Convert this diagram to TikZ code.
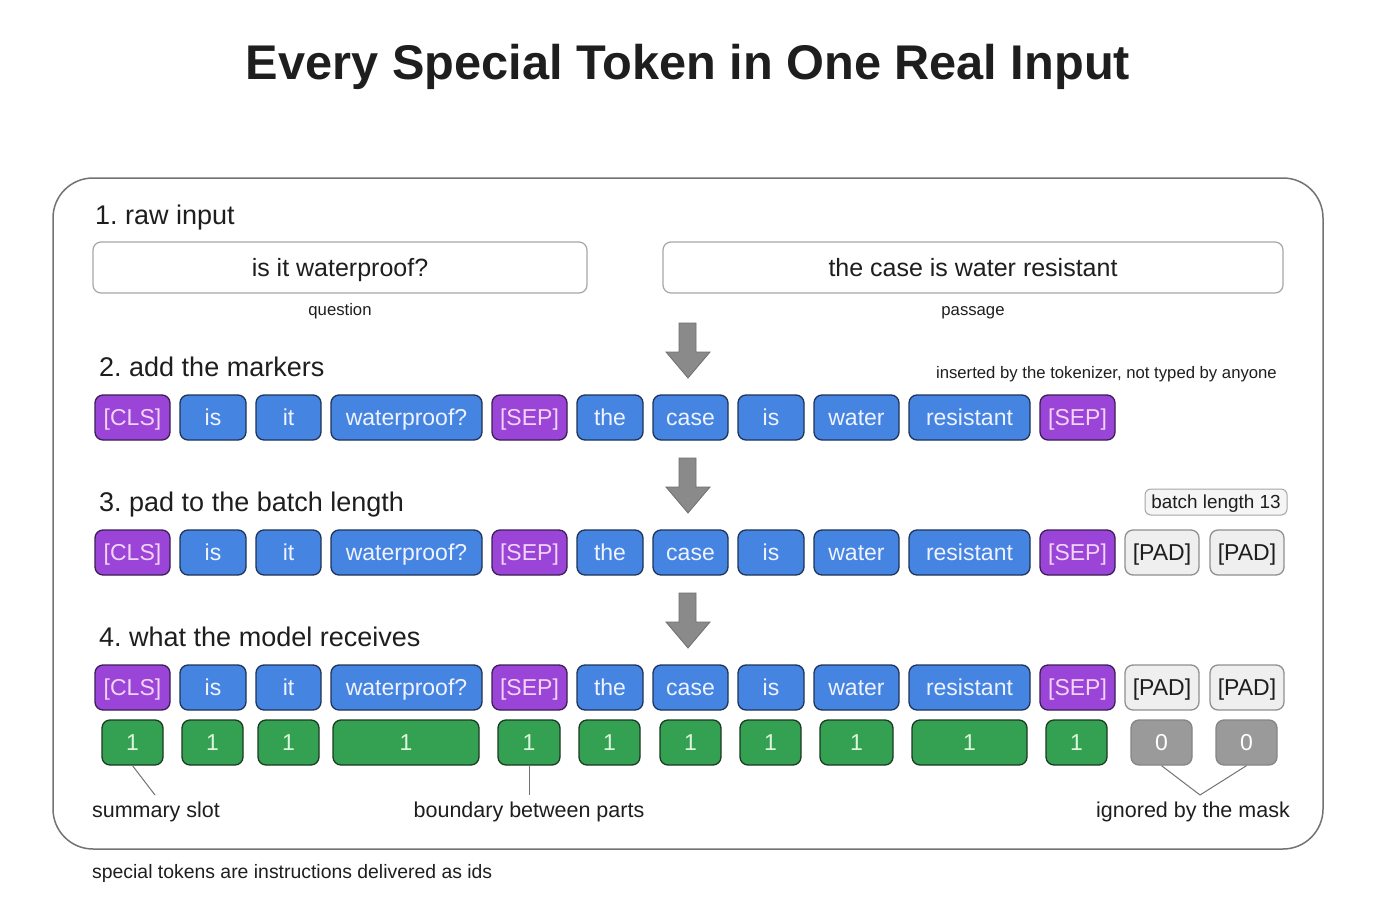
\documentclass[tikz,border=0pt]{standalone}
\usepackage{fontspec}
\setmainfont{Liberation Sans}
\frenchspacing
\usetikzlibrary{positioning}
\definecolor{purfill}{HTML}{9A45D8}
\definecolor{purdraw}{HTML}{3A1F55}
\definecolor{purtext}{HTML}{F4D4F6}
\definecolor{blufill}{HTML}{4684E2}
\definecolor{bludraw}{HTML}{1E3458}
\definecolor{blutext}{HTML}{EEF3FF}
\definecolor{grnfill}{HTML}{34A152}
\definecolor{grndraw}{HTML}{1B3A22}
\definecolor{grntext}{HTML}{DFF7DF}
\definecolor{padfill}{HTML}{EFEFEF}
\definecolor{paddraw}{HTML}{8F8F8F}
\definecolor{zerofill}{HTML}{9A9A9A}
\definecolor{zerodraw}{HTML}{858585}
\definecolor{arrfill}{HTML}{8A8A8A}
\definecolor{arrdraw}{HTML}{6E6E6E}
\definecolor{txt}{HTML}{1E1E1E}
\tikzset{
  tokbase/.style={rounded corners=8pt, line width=1.3pt, minimum height=45pt, inner sep=0pt, text height=16.5pt, text depth=0pt, font=\fontsize{23}{27}\selectfont},
  tokspecial/.style={tokbase, fill=purfill, draw=purdraw, text=purtext},
  tokword/.style={tokbase, fill=blufill, draw=bludraw, text=blutext},
  tokpad/.style={tokbase, fill=padfill, draw=paddraw, text=txt},
  maskone/.style={tokbase, fill=grnfill, draw=grndraw, text=grntext},
  maskzero/.style={tokbase, fill=zerofill, draw=zerodraw, text=white},
  heading/.style={anchor=base west, inner sep=0pt, text=txt, font=\fontsize{27}{32}\selectfont},
  smalltext/.style={anchor=base, inner sep=0pt, text=txt, font=\fontsize{16.7}{20}\selectfont},
  annot/.style={anchor=base, inner sep=0pt, text=txt, font=\fontsize{21.5}{26}\selectfont},
  inbox/.style={rounded corners=8pt, draw=black!35, line width=1.2pt, inner sep=0pt, minimum height=51pt, text height=18pt, text depth=0pt, text=txt, font=\fontsize{25}{30}\selectfont},
  bigarrow/.style={fill=arrfill, draw=arrdraw, line width=0.8pt, line join=miter},
  pointer/.style={draw=black!55, line width=1pt}
}
\begin{document}
\begin{tikzpicture}[x=1pt,y=-1pt]
\useasboundingbox (0,0) rectangle (1376,899);
\fill[white] (0,0) rectangle (1376,899);
% title
\node[anchor=base, inner sep=0pt, text=txt, font=\bfseries\fontsize{48.7}{58}\selectfont] (title) at (688,79.5) {Every Special Token in One Real Input};
% frame
\draw[draw=black!55, line width=1.5pt, rounded corners=40pt] (53,178) rectangle (1323,849);
% step 1
\node[heading] (h1) at (95,224.5) {1. raw input};
\node[inbox, minimum width=494pt] (q) at (340,267.5) {is it waterproof?};
\node[inbox, minimum width=620pt] (p) at (973,267.5) {the case is water resistant};
\node[smalltext] (ql) at (340,315) {question};
\node[smalltext] (pl) at (973,315) {passage};
% arrows
\foreach \y/\n in {323/a1,458/a2,593/a3}{
  \draw[bigarrow] (679,\y) -- (696,\y) -- (696,\y+29) -- (710,\y+29) -- (688,\y+55) -- (666,\y+29) -- (679,\y+29) -- cycle;
  \coordinate (\n) at (688,\y);
}
% step 2
\node[heading] (h2) at (99,376.5) {2. add the markers};
\node[smalltext, anchor=base east] (ins) at (1277,378) {inserted by the tokenizer, not typed by anyone};
% step 3
\node[heading] (h3) at (99,511.5) {3. pad to the batch length};
\node[rounded corners=6pt, draw=black!35, fill=black!4, line width=1pt, minimum width=142pt, minimum height=26pt, inner sep=0pt, text height=13.5pt, text depth=0pt, text=txt, font=\fontsize{18.9}{22}\selectfont] (bl) at (1216,502) {batch length 13};
% step 4
\node[heading] (h4) at (99,646.5) {4. what the model receives};
% token rows
\foreach \row/\yc in {2/417.5,3/552.5,4/687.5}{
  \foreach \l/\r/\t/\s [count=\i] in {95/170/{[CLS]}/tokspecial,180/246/is/tokword,256/321/it/tokword,331/482/waterproof?/tokword,492/567/{[SEP]}/tokspecial,577/643/the/tokword,653/728/case/tokword,738/804/is/tokword,814/899/water/tokword,909/1030/resistant/tokword,1040/1115/{[SEP]}/tokspecial}{
    \node[\s, minimum width=\r-\l] (r\row-\i) at ({(\l+\r)/2},\yc) {\t};
  }
}
\foreach \row/\yc in {3/552.5,4/687.5}{
  \node[tokpad, minimum width=74pt] (r\row-12) at (1162,\yc) {[PAD]};
  \node[tokpad, minimum width=74pt] (r\row-13) at (1247,\yc) {[PAD]};
}
% mask row
\foreach \l/\r/\t/\s [count=\i] in {102/163/1/maskone,182/243/1/maskone,258/319/1/maskone,333/479/1/maskone,498/560/1/maskone,579/640/1/maskone,660/721/1/maskone,740/801/1/maskone,820/893/1/maskone,912/1027/1/maskone,1046/1107/1/maskone,1131/1192/0/maskzero,1216/1277/0/maskzero}{
  \node[\s, minimum width=\r-\l] (m\i) at ({(\l+\r)/2},742.5) {\t};
}
% annotations
\node[annot] (sum) at (156,817.5) {summary slot};
\node[annot] (bnd) at (529,817.5) {boundary between parts};
\node[annot] (ign) at (1193,817.5) {ignored by the mask};
\coordinate (sumtip) at (155,795);
\coordinate (bndtip) at (529,795);
\coordinate (igntip) at (1200,795);
\draw[pointer] (m1.south) -- (sumtip);
\draw[pointer] (m5.south) -- (bndtip);
\draw[pointer] (m12.south) -- (igntip) -- (m13.south);
% footer
\node[annot, anchor=base west, font=\fontsize{19.4}{24}\selectfont] (foot) at (92,878) {special tokens are instructions delivered as ids};
\end{tikzpicture}
\end{document}
